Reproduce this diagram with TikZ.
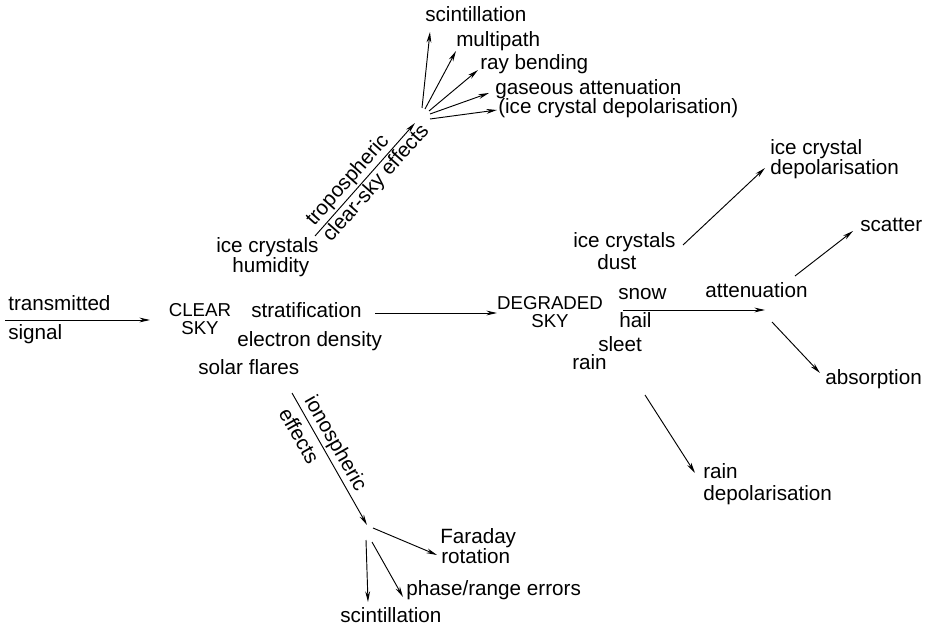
\documentclass[tikz,border=0pt]{standalone}
\usepackage{fontspec}
\setmainfont{Liberation Sans}
\usetikzlibrary{arrows.meta}
\begin{document}
\begin{tikzpicture}[x=0.75pt,y=-0.75pt,
  lbl/.style={anchor=base west, inner sep=0pt, font=\fontsize{15.5}{18}\selectfont},
  caps/.style={anchor=base, inner sep=0pt, font=\fontsize{14}{16}\selectfont},
  rot/.style={sloped, font=\fontsize{15.5}{18}\selectfont},
  arr/.style={-{Stealth[length=8pt,width=3.6pt]}, line width=0.7pt}]
\useasboundingbox (0,0) rectangle (927,630);

% ---- input
\node[lbl] (transmitted) at (8,311) {transmitted};
\node[lbl] (signal) at (8,340) {signal};
\coordinate (inS) at (5,320);
\coordinate (inT) at (150,320);
\draw[arr] (inS) -- (inT);

% ---- clear sky
\node[caps] (clear) at (200,317) {CLEAR};
\node[caps] (clearsky) at (200,335) {SKY};
\node[lbl] (strat) at (251,318) {stratification};
\node[lbl] (edens) at (237,347) {electron density};
\node[lbl] (solar) at (198,375) {solar flares};
\node[lbl] (icecl) at (216,253) {ice crystals};
\node[lbl] (humid) at (232,273) {humidity};

% ---- tropospheric branch
\coordinate (tA) at (315,236);
\coordinate (tB) at (415,123);
\draw[arr] (tA) -- node[rot, above, pos=.42, inner sep=1.5pt] (tropo) {tropospheric}
                   node[rot, below, pos=.53, inner sep=0.8pt] (clearfx) {clear-sky effects} (tB);

\coordinate (f1s) at (422,108); \coordinate (f1e) at (430,32);
\coordinate (f2s) at (425,109); \coordinate (f2e) at (456,51);
\coordinate (f3s) at (429,111); \coordinate (f3e) at (478,70);
\coordinate (f4s) at (430,114); \coordinate (f4e) at (489,93);
\coordinate (f5s) at (430,119); \coordinate (f5e) at (497,110);
\draw[arr] (f1s) -- (f1e);
\draw[arr] (f2s) -- (f2e);
\draw[arr] (f3s) -- (f3e);
\draw[arr] (f4s) -- (f4e);
\draw[arr] (f5s) -- (f5e);
\node[lbl] (tscint) at (425,22) {scintillation};
\node[lbl] (multi) at (456,47) {multipath};
\node[lbl] (raybend) at (480,70) {ray bending};
\node[lbl] (gasatt) at (495,95) {gaseous attenuation};
\node[lbl] (icedep1) at (498,114) {(ice crystal depolarisation)};

% ---- to degraded sky
\coordinate (mS) at (375,313);
\coordinate (mT) at (497,313);
\draw[arr] (mS) -- (mT);
\node[caps] (degr) at (550,310) {DEGRADED};
\node[caps] (degrsky) at (550,328) {SKY};

\node[lbl] (icecr) at (573,248) {ice crystals};
\node[lbl] (dust) at (597,270) {dust};
\node[lbl] (snow) at (618,300) {snow};
\node[lbl] (hail) at (619,328) {hail};
\node[lbl] (sleet) at (598,352) {sleet};
\node[lbl] (rain) at (572,370) {rain};

\coordinate (dIS) at (683,245); \coordinate (dIT) at (765,168);
\draw[arr] (dIS) -- (dIT);
\node[lbl] (icecry) at (770,155) {ice crystal};
\node[lbl] (icedep2) at (770,175) {depolarisation};

\coordinate (aS) at (623,310); \coordinate (aT) at (765,310);
\draw[arr] (aS) -- (aT);
\node[lbl] (atten) at (705,298) {attenuation};

\coordinate (scS) at (795,276); \coordinate (scT) at (853,231);
\draw[arr] (scS) -- (scT);
\node[lbl] (scatter) at (860,232) {scatter};

\coordinate (abS) at (772,322); \coordinate (abT) at (820,373);
\draw[arr] (abS) -- (abT);
\node[lbl] (absorp) at (825,385) {absorption};

\coordinate (rdS) at (645,395); \coordinate (rdT) at (695,473);
\draw[arr] (rdS) -- (rdT);
\node[lbl] (rainr) at (703,478) {rain};
\node[lbl] (raindep) at (703,500) {depolarisation};

% ---- ionospheric branch
\coordinate (iA) at (292,393);
\coordinate (iB) at (367,525);
\draw[arr] (iA) -- node[rot, above, pos=.43, inner sep=1.5pt] (iono) {ionospheric}
                   node[rot, below, pos=.27, inner sep=5pt] (effects) {effects} (iB);

\coordinate (faS) at (373,528); \coordinate (faT) at (437,555);
\coordinate (phS) at (372,542); \coordinate (phT) at (403,597);
\coordinate (bsS) at (366,540); \coordinate (bsT) at (368,602);
\draw[arr] (faS) -- (faT);
\draw[arr] (phS) -- (phT);
\draw[arr] (bsS) -- (bsT);
\node[lbl] (faraday) at (440,543) {Faraday};
\node[lbl] (rotation) at (441,563) {rotation};
\node[lbl] (phase) at (406,595) {phase/range errors};
\node[lbl] (bscint) at (340,622) {scintillation};
\end{tikzpicture}
\end{document}
